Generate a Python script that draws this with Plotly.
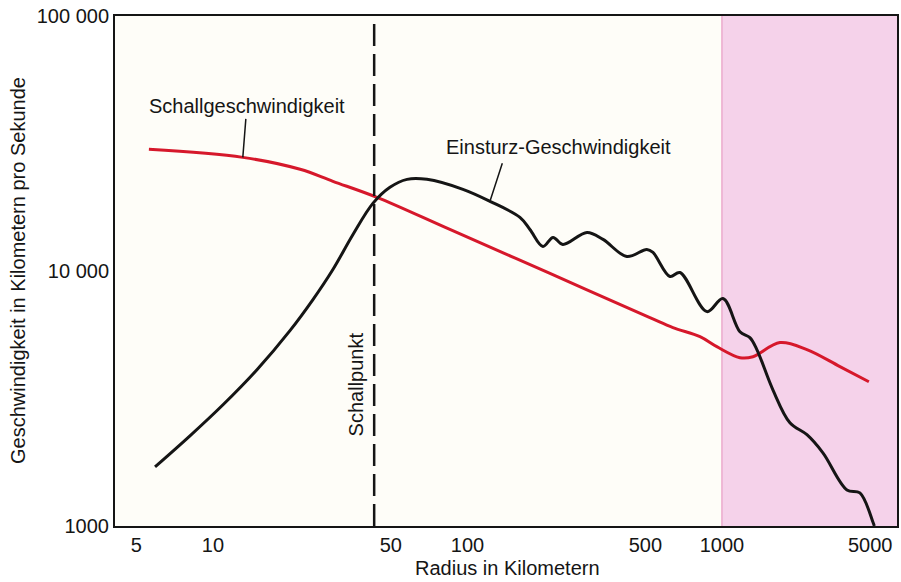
import math
import plotly.graph_objects as go

# Radius in km and speed in km/s
schall_radius = [5.6, 13.1, 22.0, 29.6, 44.1, 85.3, 211, 521, 642, 820, 955,
                 1177, 1324, 1690, 2158, 2909, 3780]
schall_speed = [30000, 27900, 25050, 22470, 19440, 14550, 9780, 6570, 6000,
                5530, 5050, 4570, 4610, 5240, 4920, 4220, 3680]

einsturz_radius = [5.92, 8.12, 10.95, 14.89, 20.07, 24.71, 29.6, 35.5, 42.5, 49.6,
                   57.9, 69.3, 96.0, 122.6, 160.8, 176, 198, 217, 237, 295, 341,
                   423, 507, 536, 625, 684, 873, 1009, 1177, 1288, 1372, 1586,
                   1850, 2158, 2494, 3099, 3485, 3920, 3970]
einsturz_speed = [1705, 2257, 2988, 4102, 5838, 7727, 10136, 13910, 18420, 21290,
                  22880, 22880, 20900, 18760, 16230, 14550, 12480, 13540, 12710,
                  14170, 13300, 11400, 12150, 11820, 9515, 9865, 6930, 7800, 5780,
                  5480, 4920, 3420, 2540, 2280, 1936, 1385, 1348, 1037, 1000]

schallpunkt_radius = 43
pink_start = 1000
x_ticks = [5, 10, 50, 100, 500, 1000]
y_ticks = [1000, 10000, 100000]
y_labels = ["1000", "10 000", "100 000"]

FONT = "Liberation Sans, Arial, sans-serif"
INK = "#151515"

fig = go.Figure()

fig.add_trace(go.Scatter(x=schall_radius, y=schall_speed, mode="lines",
                         line=dict(color="#d6182b", width=3, shape="spline", smoothing=1.0),
                         hoverinfo="skip", showlegend=False))
fig.add_trace(go.Scatter(x=einsturz_radius, y=einsturz_speed, mode="lines",
                         line=dict(color=INK, width=3, shape="spline", smoothing=1.0),
                         hoverinfo="skip", showlegend=False))

# pink region beyond 1000 km
fig.add_shape(type="rect", xref="x", yref="paper", x0=pink_start, x1=100000, y0=0, y1=1,
              fillcolor="#f5d2ea", line=dict(width=0), layer="below")
fig.add_shape(type="line", xref="x", yref="paper", x0=pink_start, x1=pink_start, y0=0, y1=1,
              line=dict(color="#e48fbc", width=1), layer="below")

# Schallpunkt dashed line
fig.add_shape(type="line", xref="x", yref="paper", x0=schallpunkt_radius, x1=schallpunkt_radius,
              y0=0, y1=1, line=dict(color=INK, width=2.5, dash="22px,8px"))

# annotation coordinates on log axes are log10 values
fig.add_annotation(x=math.log10(schallpunkt_radius), xref="x", y=0.278, yref="paper",
                   xanchor="center", yanchor="middle", xshift=-18,
                   text="Schallpunkt", textangle=-90, showarrow=False,
                   font=dict(family=FONT, size=20, color=INK))

# Schallgeschwindigkeit label with pointer
fig.add_annotation(x=math.log10(schall_radius[1]), y=math.log10(schall_speed[1]),
                   ax=4, ay=-51, text="Schallgeschwindigkeit", showarrow=True,
                   arrowhead=0, arrowwidth=1.5, arrowcolor=INK, standoff=0,
                   font=dict(family=FONT, size=20, color=INK))

# Einsturz-Geschwindigkeit label, pointer drawn separately
fig.add_annotation(x=math.log10(einsturz_radius[13]), y=math.log10(einsturz_speed[13]),
                   xshift=69, yshift=54, text="Einsturz-Geschwindigkeit", showarrow=False,
                   font=dict(family=FONT, size=20, color=INK))
fig.add_annotation(x=math.log10(einsturz_radius[13]), y=math.log10(einsturz_speed[13]),
                   ax=13, ay=-40, text=" ", showarrow=True, arrowhead=0,
                   arrowwidth=1.5, arrowcolor=INK, standoff=0, font=dict(size=1))

# 5000 sits at the right edge of the axis
fig.add_annotation(x=1, xref="paper", y=0, yref="paper", xanchor="right", yanchor="top",
                   xshift=-2, yshift=-6, text="5000", showarrow=False,
                   font=dict(family=FONT, size=20, color=INK))

# axis titles
fig.add_annotation(x=(507 - 115) / (897 - 115), xref="paper", y=0, yref="paper",
                   yanchor="middle", yshift=-42, text="Radius in Kilometern",
                   showarrow=False, font=dict(family=FONT, size=20, color=INK))
fig.add_annotation(x=0, xref="paper", y=0.5, yref="paper", xanchor="center",
                   yanchor="middle", xshift=-97,
                   text="Geschwindigkeit in Kilometern pro Sekunde",
                   textangle=-90, showarrow=False, font=dict(family=FONT, size=20, color=INK))

fig.update_layout(
    width=901, height=582,
    margin=dict(l=115, r=4, t=16, b=56, autoexpand=False),
    paper_bgcolor="white", plot_bgcolor="#fefdf8",
    font=dict(family=FONT, size=20, color=INK),
    xaxis=dict(type="log", range=[0.615, 3.688], tickvals=x_ticks,
               ticktext=[str(v) for v in x_ticks], ticks="", showgrid=False,
               showline=True, linecolor=INK, linewidth=2, mirror=True,
               zeroline=False, automargin=False, tickfont=dict(size=20)),
    yaxis=dict(type="log", range=[3, 5], tickvals=y_ticks, ticktext=y_labels,
               ticks="", showgrid=False, showline=True, linecolor=INK,
               linewidth=2, mirror=True, zeroline=False, automargin=False,
               tickfont=dict(size=20)),
)

# the page body has a default 8px margin; remove it so the figure fills the window
fig.write_html("out.html", config={"displayModeBar": False},
               post_script="document.body.style.margin='0';")
